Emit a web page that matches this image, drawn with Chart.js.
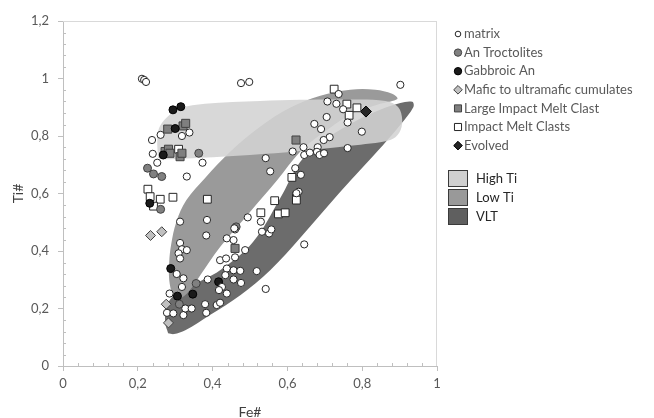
<!DOCTYPE html>
<html>
<head>
<meta charset="utf-8">
<script src="https://cdn.jsdelivr.net/npm/chart.js@4/dist/chart.umd.min.js"></script>
<style>
html, body { margin: 0; padding: 0; background: #fff; }
canvas { display: block; }
</style>
</head>
<body>
<canvas id="feTiChart" width="654" height="418"></canvas>
<script>
// tick labels (comma decimals as in the original)
const xTickLabels = ['0', '0,2', '0,4', '0,6', '0,8', '1'];
const yTickLabels = ['0', '0,2', '0,4', '0,6', '0,8', '1', '1,2'];

// [Fe#, Ti#] pairs
const matrix = [
    [0.211, 0.999], [0.217, 0.995], [0.222, 0.988], [0.476, 0.984], [0.498, 0.988], [0.902, 0.978],
    [0.737, 0.946], [0.707, 0.920], [0.731, 0.912], [0.749, 0.893], [0.705, 0.866], [0.672, 0.842],
    [0.690, 0.824], [0.761, 0.847], [0.799, 0.815], [0.713, 0.796], [0.697, 0.786], [0.643, 0.761],
    [0.614, 0.746], [0.645, 0.734], [0.660, 0.742], [0.681, 0.761], [0.679, 0.745], [0.686, 0.734],
    [0.698, 0.740], [0.761, 0.758], [0.542, 0.723], [0.554, 0.677], [0.621, 0.688], [0.636, 0.665],
    [0.630, 0.606], [0.624, 0.601], [0.238, 0.786], [0.261, 0.804], [0.318, 0.800], [0.338, 0.812],
    [0.240, 0.738], [0.252, 0.707], [0.373, 0.707], [0.331, 0.659], [0.313, 0.502], [0.385, 0.508],
    [0.383, 0.454], [0.313, 0.428], [0.318, 0.406], [0.331, 0.403], [0.309, 0.392], [0.313, 0.374],
    [0.438, 0.444], [0.456, 0.438], [0.460, 0.475], [0.458, 0.479], [0.494, 0.517], [0.529, 0.502],
    [0.532, 0.467], [0.551, 0.461], [0.557, 0.475], [0.645, 0.423], [0.518, 0.330], [0.542, 0.268],
    [0.420, 0.368], [0.436, 0.374], [0.460, 0.378], [0.438, 0.339], [0.456, 0.333], [0.474, 0.331],
    [0.476, 0.289], [0.456, 0.301], [0.434, 0.316], [0.425, 0.275], [0.487, 0.403], [0.304, 0.320],
    [0.322, 0.305], [0.318, 0.275], [0.285, 0.252], [0.278, 0.185], [0.295, 0.183], [0.322, 0.177],
    [0.327, 0.200], [0.344, 0.200], [0.380, 0.215], [0.383, 0.185], [0.411, 0.212], [0.420, 0.220],
    [0.438, 0.252], [0.417, 0.264], [0.387, 0.301]
];
const anTroctolites = [
    [0.363, 0.740], [0.226, 0.688], [0.242, 0.668], [0.264, 0.659], [0.261, 0.545],
    [0.463, 0.484], [0.356, 0.287], [0.311, 0.215]
];
const gabbroicAn = [
    [0.294, 0.891], [0.315, 0.902], [0.300, 0.826], [0.268, 0.734], [0.232, 0.566],
    [0.288, 0.339], [0.306, 0.243], [0.347, 0.250], [0.416, 0.293]
];
const maficCumulates = [[0.234, 0.454], [0.264, 0.467], [0.276, 0.215], [0.282, 0.150]];
const largeImpactMelt = [
    [0.280, 0.824], [0.321, 0.835], [0.328, 0.844], [0.273, 0.746], [0.282, 0.754],
    [0.286, 0.740], [0.313, 0.728], [0.318, 0.740], [0.623, 0.786], [0.460, 0.409]
];
const impactMeltClasts = [
    [0.309, 0.754], [0.227, 0.615], [0.233, 0.589], [0.260, 0.580], [0.294, 0.587], [0.386, 0.580],
    [0.242, 0.556], [0.725, 0.963], [0.759, 0.911], [0.786, 0.898], [0.765, 0.872], [0.612, 0.656],
    [0.624, 0.591], [0.624, 0.577], [0.566, 0.575], [0.529, 0.533], [0.576, 0.529], [0.594, 0.533]
];
const evolved = [[0.810, 0.885]];

// outlines of the mare basalt fields
const highTi = [
    [0.254, 0.724], [0.252, 0.786], [0.257, 0.828], [0.276, 0.863], [0.313, 0.896], [0.380, 0.912],
    [0.527, 0.922], [0.634, 0.926], [0.768, 0.927], [0.862, 0.922], [0.896, 0.901], [0.907, 0.856],
    [0.899, 0.811], [0.875, 0.786], [0.768, 0.766], [0.634, 0.748], [0.500, 0.734], [0.367, 0.724],
    [0.286, 0.719], [0.262, 0.719]
];
const lowTi = [
    [0.292, 0.243], [0.284, 0.299], [0.284, 0.361], [0.289, 0.421], [0.303, 0.501], [0.330, 0.577],
    [0.380, 0.654], [0.447, 0.745], [0.527, 0.832], [0.607, 0.898], [0.688, 0.940], [0.768, 0.961],
    [0.835, 0.961], [0.880, 0.947], [0.894, 0.929], [0.848, 0.912], [0.768, 0.874], [0.688, 0.804],
    [0.634, 0.745], [0.573, 0.647], [0.500, 0.536], [0.420, 0.414], [0.367, 0.316], [0.335, 0.257],
    [0.313, 0.236]
];
const vlt = [
    [0.281, 0.114], [0.273, 0.153], [0.278, 0.212], [0.300, 0.250], [0.340, 0.278], [0.420, 0.333],
    [0.508, 0.431], [0.581, 0.584], [0.634, 0.710], [0.688, 0.776], [0.768, 0.842], [0.848, 0.891],
    [0.902, 0.915], [0.934, 0.919], [0.937, 0.901], [0.902, 0.839], [0.856, 0.769], [0.741, 0.605],
    [0.634, 0.445], [0.554, 0.333], [0.474, 0.246], [0.393, 0.177], [0.327, 0.124], [0.297, 0.111]
];

const toXY = arr => arr.map(p => ({ x: p[0], y: p[1] }));
const closed = arr => toXY(arr.concat([arr[0]]));

const pointSeries = [
    { label: 'matrix', data: matrix, style: 'circle', r: 3.6, bg: '#ffffff', bd: '#262626', lr: 2.8 },
    { label: 'An Troctolites', data: anTroctolites, style: 'circle', r: 4, bg: '#808080', bd: '#404040', lr: 3.7 },
    { label: 'Gabbroic An', data: gabbroicAn, style: 'circle', r: 4, bg: '#1a1a1a', bd: '#000000', lr: 3.7 },
    { label: 'Mafic to ultramafic cumulates', data: maficCumulates, style: 'rectRot', r: 5, bg: '#c0c0c0', bd: '#404040', lr: 4.3 },
    { label: 'Large Impact Melt Clast', data: largeImpactMelt, style: 'rect', r: 5.7, bg: '#7f7f7f', bd: '#404040', lr: 5 },
    { label: 'Impact Melt Clasts', data: impactMeltClasts, style: 'rect', r: 5.5, bg: '#ffffff', bd: '#262626', lr: 5 },
    { label: 'Evolved', data: evolved, style: 'rectRot', r: 5.5, bg: '#262626', bd: '#000000', lr: 4.3 }
];
const regionSeries = [
    { label: 'High Ti', data: highTi, fill: 'rgba(211,211,211,0.88)', box: '#d0d0d0', order: 10 },
    { label: 'Low Ti', data: lowTi, fill: '#9a9a9a', box: '#999999', order: 11 },
    { label: 'VLT', data: vlt, fill: '#6c6c6c', box: '#5f5f5f', order: 12 }
];

const datasets = pointSeries.map(s => ({
    label: s.label,
    data: toXY(s.data),
    pointStyle: s.style,
    pointRadius: s.r,
    pointBackgroundColor: s.bg,
    pointBorderColor: s.bd,
    pointBorderWidth: 1,
    order: 0
})).concat(regionSeries.map(s => ({
    label: s.label,
    data: closed(s.data),
    showLine: true,
    tension: 0.35,
    fill: 'shape',
    backgroundColor: s.fill,
    borderColor: 'rgba(0,0,0,0)',
    borderWidth: 1,
    pointRadius: 0,
    order: s.order
})));

const decor = {
    id: 'decor',
    beforeDatasetsDraw(chart) {
        const { ctx, chartArea: a, scales: { x, y } } = chart;
        ctx.save();
        ctx.lineWidth = 1;
        ctx.strokeStyle = '#d9d9d9';
        ctx.beginPath();
        ctx.moveTo(a.left, Math.round(a.top) + 0.5);
        ctx.lineTo(a.right, Math.round(a.top) + 0.5);
        ctx.moveTo(Math.round(a.right) - 0.5, a.top);
        ctx.lineTo(Math.round(a.right) - 0.5, a.bottom);
        ctx.stroke();
        // minor ticks, inside
        ctx.strokeStyle = '#bfbfbf';
        ctx.beginPath();
        for (let k = 1; k < 25; k++) {
            if (k % 5 === 0) continue;
            const px = Math.round(x.getPixelForValue(k * 0.04)) + 0.5;
            ctx.moveTo(px, a.bottom);
            ctx.lineTo(px, a.bottom - 3);
        }
        for (let k = 1; k < 30; k++) {
            if (k % 5 === 0) continue;
            const py = Math.round(y.getPixelForValue(k * 0.04)) + 0.5;
            ctx.moveTo(a.left, py);
            ctx.lineTo(a.left + 3, py);
        }
        ctx.stroke();
        ctx.restore();
    },
    afterDraw(chart) {
        const ctx = chart.ctx;
        ctx.save();
        ctx.font = '13px Lato';
        ctx.textBaseline = 'middle';
        pointSeries.forEach((s, i) => {
            const yc = 34 + i * 18.6;
            ctx.fillStyle = s.bg;
            ctx.strokeStyle = s.bd;
            ctx.lineWidth = 1;
            Chart.helpers.drawPoint(ctx, { pointStyle: s.style, radius: s.lr, rotation: 0, borderWidth: 1 }, 458, yc);
            ctx.fillStyle = '#595959';
            ctx.fillText(s.label, 464, yc);
        });
        regionSeries.forEach((s, j) => {
            const top = 170.5 + j * 19;
            ctx.fillStyle = s.box;
            ctx.fillRect(448.5, top, 19, 16);
            ctx.strokeStyle = '#3a3a3a';
            ctx.lineWidth = 1;
            ctx.strokeRect(448.5, top, 19, 16);
            ctx.fillStyle = '#262626';
            ctx.fillText(s.label, 476, top + 8.5);
        });
        ctx.restore();
    }
};

const chart = new Chart(document.getElementById('feTiChart'), {
    type: 'scatter',
    data: { datasets: datasets },
    options: {
        responsive: false,
        animation: false,
        layout: { padding: { top: 21, right: 217, bottom: 0, left: 0 } },
        plugins: {
            legend: { display: false },
            tooltip: { enabled: false }
        },
        scales: {
            x: {
                type: 'linear',
                min: 0,
                max: 1,
                ticks: {
                    stepSize: 0.2,
                    callback: (v, i) => xTickLabels[i],
                    color: '#595959',
                    font: { family: 'Lato', size: 13 },
                    padding: 5,
                    maxRotation: 0
                },
                grid: { drawOnChartArea: false, color: '#bfbfbf', tickLength: 5 },
                border: { color: '#bfbfbf' },
                title: {
                    display: true,
                    text: 'Fe#',
                    color: '#404040',
                    font: { family: 'Lato', size: 14 },
                    padding: { top: 0, bottom: -3 }
                },
                afterFit: s => { s.height = 52; }
            },
            y: {
                type: 'linear',
                min: 0,
                max: 1.2,
                ticks: {
                    stepSize: 0.2,
                    callback: (v, i) => yTickLabels[i],
                    color: '#595959',
                    font: { family: 'Lato', size: 13 },
                    padding: 9
                },
                grid: { drawOnChartArea: false, color: '#bfbfbf', tickLength: 5 },
                border: { color: '#bfbfbf' },
                title: {
                    display: true,
                    text: 'Ti#',
                    color: '#404040',
                    font: { family: 'Lato', size: 14 },
                    padding: { top: 10, bottom: 0 }
                },
                afterFit: s => { s.width = 63; }
            }
        }
    },
    plugins: [decor]
});
</script>
</body>
</html>
